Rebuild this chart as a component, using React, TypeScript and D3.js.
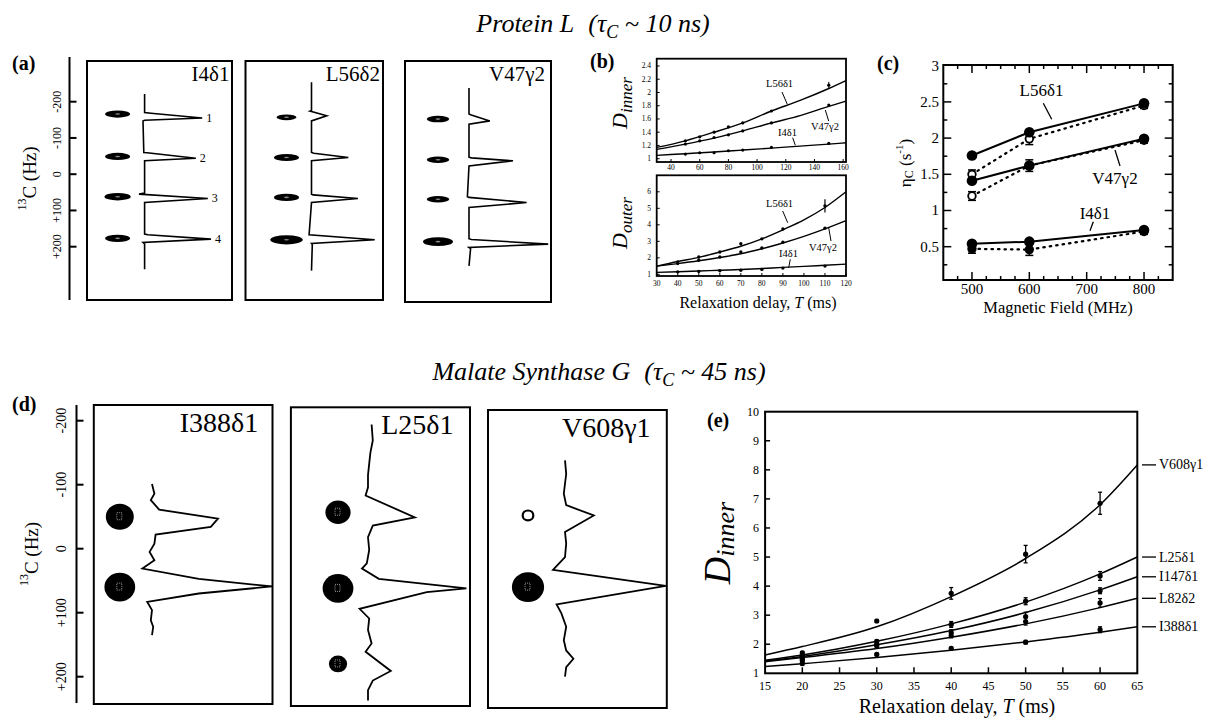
import React from 'react';
import * as d3 from 'd3';

const FONT = '"Liberation Serif", "Times New Roman", Times, serif';

// ---------- (a) Protein L multiplets ----------
const aLabels = ['I4δ1', 'L56δ2', 'V47γ2'];
const aPeakNumbers = ['1', '2', '3', '4'];
const aSpotHz = [[-166, -49, 62, 177], [-157, -46, 64, 181], [-152, -40, 69, 186]];
const aSpotVol = [[1, 1, 1.05, 1], [0.8, 1, 1, 1.3], [0.9, 0.9, 0.9, 1.2]];
// [13C offset Hz, intensity] along each 1D trace
const aTraceI4: [number, number][] = [[-221, 0], [-170, 0], [-168, 8], [-155, 72], [-149, 0], [-147, -2], [-60, -1], [-59, 3], [-44, 64], [-37, 0], [52, 0], [55, -7], [67, 79], [78, 0], [165, 0], [167, 4], [179, 83], [188, -2], [192, 0], [262, 0]];
const aTraceL56: [number, number][] = [[-254, 0], [-176, 0], [-174, -2], [-161, 19], [-147, 0], [-60, 0], [-58, 3], [-46, 46], [-37, 0], [55, 0], [57, 2], [67, 58], [78, 0], [167, -3], [181, 79], [191, 0], [194, 1], [266, 0]];
const aTraceV47: [number, number][] = [[-238, 0], [-166, 0], [-164, 2], [-147, 26], [-138, 0], [-47, 0], [-45, 3], [-37, 55], [-23, 0], [62, -2], [64, 0], [78, 72], [92, 0], [178, 0], [180, 3], [193, 99], [202, 0], [205, 2], [253, 0]];
const aTraces = [aTraceI4, aTraceL56, aTraceV47];

const hzTicks = [-200, -100, 0, 100, 200];
const hzTickLabels = ['-200', '-100', '0', '+100', '+200'];

// ---------- (b) D_inner / D_outer ----------
const bInnerT = [50, 60, 70, 80, 90, 110, 150];
const bInnerL56 = [1.27, 1.33, 1.4, 1.48, 1.54, 1.72, 2.11];
const bInnerV47 = [1.22, 1.27, 1.32, 1.36, 1.42, 1.54, 1.81];
const bInnerI4 = [1.07, 1.09, 1.09, 1.12, 1.13, 1.17, 1.23];
const bInnerFitT = [30, 50, 70, 90, 110, 130, 150, 162];
const bInnerFitL56 = [1.17, 1.27, 1.4, 1.54, 1.72, 1.88, 2.06, 2.18];
const bInnerFitV47 = [1.14, 1.22, 1.31, 1.42, 1.54, 1.65, 1.79, 1.87];
const bInnerFitI4 = [1.05, 1.075, 1.1, 1.13, 1.16, 1.19, 1.22, 1.24];

const bOuterT = [40, 50, 60, 70, 80, 90, 110];
const bOuterL56 = [1.75, 2.05, 2.35, 2.85, 3.15, 3.75, 5.15];
const bOuterV47 = [1.65, 1.85, 2.05, 2.35, 2.6, 2.95, 3.8];
const bOuterI4 = [1.15, 1.18, 1.22, 1.25, 1.3, 1.38, 1.5];
const bOuterFitT = [30, 40, 50, 60, 70, 80, 90, 100, 110, 120];
const bOuterFitL56 = [1.5, 1.78, 2.03, 2.35, 2.7, 3.15, 3.7, 4.3, 5.05, 6.0];
const bOuterFitV47 = [1.5, 1.65, 1.82, 2.02, 2.25, 2.55, 2.9, 3.3, 3.75, 4.25];
const bOuterFitI4 = [1.12, 1.16, 1.2, 1.25, 1.29, 1.35, 1.42, 1.48, 1.55, 1.62];

// ---------- (c) eta_C vs field ----------
const cField = [500, 600, 800];
const cL56Solid = [1.76, 2.08, 2.48];
const cL56Dotted = [1.5, 1.99, 2.45];
const cV47Solid = [1.41, 1.62, 1.99];
const cV47Dotted = [1.2, 1.62, 1.97];
const cI4Solid = [0.54, 0.57, 0.73];
const cI4Dotted = [0.47, 0.46, 0.71];
const cSolidErr = [0.03, 0.04, 0.04];
const cDottedErr = [0.06, 0.08, 0.04];

// ---------- (d) Malate Synthase G multiplets ----------
const dLabels = ['I388δ1', 'L25δ1', 'V608γ1'];
const dSpotHz = [[-50, 60], [-57, 62, 180], [-52, 60]];
const dSpotVol = [[1, 1.1], [0.9, 1.1, 0.65], [0.38, 1.15]];
const dTraceI388: [number, number][] = [[-101, 0], [-86, 2], [-76, -1], [-61, 6], [-47, 55], [-34, 49], [-22, 3], [-8, 2], [5, -2], [18, 2], [31, -8], [47, 39], [59, 100], [70, 39], [83, -4], [96, 0], [112, -1], [122, 1], [135, 0]];
const dTraceL25: [number, number][] = [[-194, 3], [-169, 4], [-150, 2], [-133, 1], [-115, 0], [-96, 0], [-83, -2], [-49, 39], [-36, 4], [-18, 0], [2, 1], [23, -1], [31, -5], [47, 9], [62, 82], [68, 49], [94, -7], [109, 1], [127, 0], [148, 3], [161, -2], [191, 19], [206, 4], [221, 0], [237, 0]];
const dTraceV608: [number, number][] = [[-138, 0], [-117, 1], [-86, -1], [-68, 1], [-52, 24], [-26, 0], [-8, 1], [13, 0], [33, -10], [58, 84], [87, -7], [101, -3], [122, 1], [143, -1], [159, 1], [172, 7], [185, 1], [200, 0]];
const dTraces = [dTraceI388, dTraceL25, dTraceV608];

// ---------- (e) D_inner, MSG ----------
const eLabels = ['V608γ1', 'L25δ1', 'I147δ1', 'L82δ2', 'I388δ1'];
const eT = [20, 30, 40, 50, 60];
const eV608 = [1.7, 2.8, 3.75, 5.1, 6.85];
const eL25 = [1.62, 2.1, 2.68, 3.48, 4.35];
const eI147 = [1.5, 2.0, 2.4, 2.95, 3.84];
const eL82 = [1.45, 1.95, 2.3, 2.78, 3.42];
const eI388 = [1.35, 1.65, 1.86, 2.07, 2.5];
const eV608Err = [0.05, 0.05, 0.2, 0.3, 0.38];
const eL25Err = [0.1, 0.05, 0.1, 0.12, 0.15];
const eI147Err = [0.1, 0.08, 0.1, 0.15, 0.1];
const eL82Err = [0.1, 0.05, 0.08, 0.12, 0.15];
const eI388Err = [0.08, 0.04, 0.04, 0.06, 0.1];
const eFitT = [15, 20, 30, 40, 50, 60, 65];
const eFitV608 = [1.63, 1.92, 2.6, 3.64, 4.95, 6.8, 8.17];
const eFitL25 = [1.45, 1.63, 2.1, 2.7, 3.45, 4.42, 5.0];
const eFitI147 = [1.42, 1.58, 1.98, 2.47, 3.09, 3.87, 4.32];
const eFitL82 = [1.4, 1.54, 1.85, 2.24, 2.7, 3.26, 3.58];
const eFitI388 = [1.23, 1.33, 1.54, 1.79, 2.08, 2.41, 2.6];

const zip = (xs: number[], ys: number[]) => xs.map((x, i) => [x, ys[i]] as [number, number]);

function PanelLetter({ x, y, t }: { x: number; y: number; t: string }) {
  return <text x={x} y={y} fontSize={20} fontWeight="bold">{t}</text>;
}

function HzAxis({ x, top, bottom, hz, labelX, titleX, fs }: any) {
  return (
    <g>
      <line x1={x} x2={x} y1={top} y2={bottom} stroke="#000" strokeWidth={2} />
      {hzTicks.map((t, i) => (
        <g key={t}>
          <line x1={x} x2={x + 7} y1={hz(t)} y2={hz(t)} stroke="#000" strokeWidth={2} />
          <text transform={`translate(${labelX},${hz(t)}) rotate(-90)`} textAnchor="middle" dominantBaseline="central" fontSize={fs}>{hzTickLabels[i]}</text>
        </g>
      ))}
      <text transform={`translate(${titleX},${(top + bottom) / 2}) rotate(-90)`} textAnchor="middle" dominantBaseline="central" fontSize={19}>
        <tspan fontSize={12} dy={-7}>13</tspan><tspan dy={7}>C (Hz)</tspan>
      </text>
    </g>
  );
}

function PanelA() {
  const hz = d3.scaleLinear().domain([-200, 200]).range([101.7, 246.7]);
  const amp = d3.scaleLinear().domain([0, 100]).range([0, 80]);
  const boxes = [
    { x0: 87, x1: 232, y0: 61, y1: 300, base: 144.6, spot: 117.6, lx: 229.5 },
    { x0: 245.5, x1: 383, y0: 61, y1: 300, base: 311.5, spot: 286.5, lx: 380 },
    { x0: 405, x1: 551, y0: 61, y1: 302, base: 469, spot: 438, lx: 545 },
  ];
  return (
    <g>
      <PanelLetter x={12} y={70} t="(a)" />
      <HzAxis x={69.5} top={57} bottom={300} hz={hz} labelX={57} titleX={29} fs={12} />
      {boxes.map((b, i) => {
        const line = d3.line<[number, number]>().x(d => b.base + amp(d[1])).y(d => hz(d[0]));
        const tips = aTraces[i].filter(d => d[1] > 40);
        return (
          <g key={i}>
            <rect x={b.x0} y={b.y0} width={b.x1 - b.x0} height={b.y1 - b.y0} fill="none" stroke="#000" strokeWidth={2} />
            <text x={b.lx} y={81} textAnchor="end" fontSize={21}>{aLabels[i]}</text>
            {aSpotHz[i].map((h, j) => (
              <g key={j}>
                <ellipse cx={b.spot} cy={hz(h)} rx={12.5 * aSpotVol[i][j]} ry={3.6 * aSpotVol[i][j]} fill="#000" />
                <ellipse cx={b.spot} cy={hz(h)} rx={2.5} ry={0.8} fill="#888" />
              </g>
            ))}
            <path d={line(aTraces[i]) || ''} fill="none" stroke="#000" strokeWidth={1.6} strokeLinejoin="miter" />
            {i === 0 && tips.map((d, j) => (
              <text key={j} x={b.base + amp(d[1]) + 4} y={hz(d[0])} dominantBaseline="central" fontSize={12}>{aPeakNumbers[j]}</text>
            ))}
          </g>
        );
      })}
    </g>
  );
}

function Pointer({ p }: { p: number[] }) {
  return <line x1={p[0]} y1={p[1]} x2={p[2]} y2={p[3]} stroke="#000" strokeWidth={1} />;
}

function PanelB() {
  const L = 656.7, R = 846;
  const xi = d3.scaleLinear().domain([30, 162]).range([L, R]);
  const yi = d3.scaleLinear().domain([0.95, 2.51]).range([162, 58.7]);
  const xo = d3.scaleLinear().domain([30, 120]).range([L, R]);
  const yo = d3.scaleLinear().domain([0.9, 7.0]).range([276, 175.3]);
  const li = d3.line<[number, number]>().x(d => xi(d[0])).y(d => yi(d[1])).curve(d3.curveMonotoneX);
  const lo = d3.line<[number, number]>().x(d => xo(d[0])).y(d => yo(d[1])).curve(d3.curveMonotoneX);
  const inner = [bInnerL56, bInnerV47, bInnerI4];
  const innerFit = [bInnerFitL56, bInnerFitV47, bInnerFitI4];
  const outer = [bOuterL56, bOuterV47, bOuterI4];
  const outerFit = [bOuterFitL56, bOuterFitV47, bOuterFitI4];
  const fs = 7.5;
  return (
    <g>
      <PanelLetter x={590} y={68} t="(b)" />
      {/* inner plot */}
      <rect x={L} y={58.7} width={R - L} height={162 - 58.7} fill="none" stroke="#000" strokeWidth={1.8} />
      {d3.range(1, 2.41, 0.2).map(v => (
        <g key={v}>
          <line x1={L} x2={L + 3} y1={yi(v)} y2={yi(v)} stroke="#000" />
          <text x={651} y={yi(v)} textAnchor="end" dominantBaseline="central" fontSize={fs}>{+v.toFixed(1)}</text>
        </g>
      ))}
      {d3.range(40, 161, 20).map(v => (
        <g key={v}>
          <line x1={xi(v)} x2={xi(v)} y1={162} y2={159} stroke="#000" />
          <text x={xi(v)} y={170} textAnchor="middle" fontSize={fs}>{v}</text>
        </g>
      ))}
      {innerFit.map((f, k) => <path key={k} d={li(zip(bInnerFitT, f)) || ''} fill="none" stroke="#000" strokeWidth={1.4} />)}
      {inner.map((s, k) => s.map((v, j) => <circle key={k + '-' + j} cx={xi(bInnerT[j])} cy={yi(v)} r={1.6} fill="#000" />))}
      <line x1={xi(150)} x2={xi(150)} y1={yi(2.16)} y2={yi(2.06)} stroke="#000" />
      <text x={766} y={87} fontSize={10.5}>L56δ1</text>
      <Pointer p={[782, 92, 787.3, 104.3]} />
      <text x={811} y={130} fontSize={10.5}>V47γ2</text>
      <Pointer p={[825.3, 110, 828.7, 121]} />
      <text x={778} y={136} fontSize={10.5}>I4δ1</text>
      <Pointer p={[792.7, 137.7, 795.3, 145.3]} />
      {/* outer plot */}
      <rect x={L} y={175.3} width={R - L} height={276 - 175.3} fill="none" stroke="#000" strokeWidth={1.8} />
      {d3.range(1, 7).map(v => (
        <g key={v}>
          <line x1={L} x2={L + 3} y1={yo(v)} y2={yo(v)} stroke="#000" />
          <text x={651} y={yo(v)} textAnchor="end" dominantBaseline="central" fontSize={fs}>{v}</text>
        </g>
      ))}
      {d3.range(30, 121, 10).map(v => (
        <g key={v}>
          <line x1={xo(v)} x2={xo(v)} y1={276} y2={273} stroke="#000" />
          <text x={xo(v)} y={285.5} textAnchor="middle" fontSize={fs}>{v}</text>
        </g>
      ))}
      {outerFit.map((f, k) => <path key={k} d={lo(zip(bOuterFitT, f)) || ''} fill="none" stroke="#000" strokeWidth={1.4} />)}
      {outer.map((s, k) => s.map((v, j) => <circle key={k + '-' + j} cx={xo(bOuterT[j])} cy={yo(v)} r={1.7} fill="#000" />))}
      <line x1={xo(110)} x2={xo(110)} y1={yo(5.55)} y2={yo(4.75)} stroke="#000" strokeWidth={1.2} />
      <text x={766} y={206.7} fontSize={10.5}>L56δ1</text>
      <Pointer p={[782.7, 211, 787.7, 222.7]} />
      <text x={809} y={251} fontSize={10.5}>V47γ2</text>
      <Pointer p={[828.7, 227.7, 831, 241]} />
      <text x={779} y={256.7} fontSize={10.5}>I4δ1</text>
      <Pointer p={[790.3, 259.3, 788.7, 267.7]} />
      <text transform="translate(627,103) rotate(-90)" textAnchor="middle" fontSize={22} fontStyle="italic">D<tspan fontSize={17} dy={5}>inner</tspan></text>
      <text transform="translate(627,223) rotate(-90)" textAnchor="middle" fontSize={22} fontStyle="italic">D<tspan fontSize={17} dy={5}>outer</tspan></text>
      <text x={758} y={308} textAnchor="middle" fontSize={16}>Relaxation delay, <tspan fontStyle="italic">T</tspan>  (ms)</text>
    </g>
  );
}

function PanelC() {
  const L = 943.3, R = 1172.7, T = 65, B = 280;
  const x = d3.scaleLinear().domain([450, 850]).range([L, R]);
  const y = d3.scaleLinear().domain([0.04, 3]).range([B, 65.7]);
  const ln = d3.line<[number, number]>().x(d => x(d[0])).y(d => y(d[1]));
  const solid = [cL56Solid, cV47Solid, cI4Solid];
  const dotted = [cL56Dotted, cV47Dotted, cI4Dotted];
  return (
    <g>
      <PanelLetter x={877} y={70} t="(c)" />
      <rect x={L} y={T} width={R - L} height={B - T} fill="none" stroke="#000" strokeWidth={2} />
      {d3.range(0.25, 2.9, 0.25).map(v => {
        const major = Math.abs(v * 2 - Math.round(v * 2)) < 1e-6;
        const len = major ? 8 : 4;
        return (
          <g key={v}>
            <line x1={L} x2={L + len} y1={y(v)} y2={y(v)} stroke="#000" strokeWidth={1.5} />
            <line x1={R} x2={R - len} y1={y(v)} y2={y(v)} stroke="#000" strokeWidth={1.5} />
          </g>
        );
      })}
      {[0.5, 1, 1.5, 2, 2.5, 3].map(v => (
        <text key={v} x={939} y={y(v)} textAnchor="end" dominantBaseline="central" fontSize={15}>{v}</text>
      ))}
      {d3.range(475, 826, 25).map(v => {
        const major = v % 100 === 0;
        const len = major ? 8 : 4;
        return (
          <g key={v}>
            <line x1={x(v)} x2={x(v)} y1={B} y2={B - len} stroke="#000" strokeWidth={1.5} />
            <line x1={x(v)} x2={x(v)} y1={T} y2={T + len} stroke="#000" strokeWidth={1.5} />
          </g>
        );
      })}
      {[500, 600, 700, 800].map(v => (
        <text key={v} x={x(v)} y={293.5} textAnchor="middle" fontSize={15}>{v}</text>
      ))}
      {dotted.map((s, k) => (
        <g key={'d' + k}>
          <path d={ln(zip(cField, s)) || ''} fill="none" stroke="#000" strokeWidth={2.2} strokeDasharray="1.5 5" strokeLinecap="round" />
          {s.map((v, j) => (
            <g key={j}>
              <line x1={x(cField[j])} x2={x(cField[j])} y1={y(v - cDottedErr[j])} y2={y(v + cDottedErr[j])} stroke="#000" strokeWidth={1.5} />
              <line x1={x(cField[j]) - 4} x2={x(cField[j]) + 4} y1={y(v - cDottedErr[j])} y2={y(v - cDottedErr[j])} stroke="#000" strokeWidth={1.5} />
              <line x1={x(cField[j]) - 4} x2={x(cField[j]) + 4} y1={y(v + cDottedErr[j])} y2={y(v + cDottedErr[j])} stroke="#000" strokeWidth={1.5} />
              <circle cx={x(cField[j])} cy={y(v)} r={3.8} fill={k === 2 ? '#000' : '#fff'} stroke="#000" strokeWidth={1.8} />
            </g>
          ))}
        </g>
      ))}
      {solid.map((s, k) => (
        <g key={'s' + k}>
          <path d={ln(zip(cField, s)) || ''} fill="none" stroke="#000" strokeWidth={2} />
          {s.map((v, j) => (
            <g key={j}>
              <line x1={x(cField[j])} x2={x(cField[j])} y1={y(v - cSolidErr[j])} y2={y(v + cSolidErr[j])} stroke="#000" strokeWidth={1.5} />
              <circle cx={x(cField[j])} cy={y(v)} r={5.3} fill="#000" />
            </g>
          ))}
        </g>
      ))}
      <text x={1041.5} y={96} textAnchor="middle" fontSize={17}>L56δ1</text>
      <line x1={1043.3} y1={103.3} x2={1051.7} y2={119.3} stroke="#000" strokeWidth={1.3} />
      <text x={1115} y={184} textAnchor="middle" fontSize={17}>V47γ2</text>
      <line x1={1115} y1={150} x2={1120} y2={166} stroke="#000" strokeWidth={1.3} />
      <text x={1095} y={219} textAnchor="middle" fontSize={17}>I4δ1</text>
      <line x1={1093.3} y1={221.7} x2={1090} y2={230.7} stroke="#000" strokeWidth={1.3} />
      <text transform="translate(905,163) rotate(-90)" textAnchor="middle" dominantBaseline="central" fontSize={17}>
        η<tspan fontSize={12} dy={4}>C</tspan><tspan dy={-4}> (s</tspan><tspan fontSize={11} dy={-6}>-1</tspan><tspan dy={6}>)</tspan>
      </text>
      <text x={1058} y={313} textAnchor="middle" fontSize={16.5}>Magnetic Field (MHz)</text>
    </g>
  );
}

function PanelD() {
  const hz = d3.scaleLinear().domain([-200, 200]).range([420.7, 676.7]);
  const amp = d3.scaleLinear().domain([0, 100]).range([0, 120]);
  const boxes = [
    { x0: 93.8, x1: 272.5, y0: 405, y1: 704, base: 152, spot: 119.8, lx: 258.3, ly: 431.7 },
    { x0: 290.9, x1: 470, y0: 407.3, y1: 706, base: 368, spot: 338, lx: 453.5, ly: 434 },
    { x0: 488, x1: 666.8, y0: 410, y1: 708, base: 565, spot: 528, lx: 650.5, ly: 436.7 },
  ];
  return (
    <g>
      <PanelLetter x={12} y={411} t="(d)" />
      <HzAxis x={76.5} top={405} bottom={703} hz={hz} labelX={61} titleX={30.6} fs={14} />
      {boxes.map((b, i) => {
        const line = d3.line<[number, number]>().x(d => b.base + amp(d[1])).y(d => hz(d[0]));
        return (
          <g key={i}>
            <rect x={b.x0} y={b.y0} width={b.x1 - b.x0} height={b.y1 - b.y0} fill="none" stroke="#000" strokeWidth={2} />
            <text x={b.lx} y={b.ly} textAnchor="end" fontSize={28}>{dLabels[i]}</text>
            {dSpotHz[i].map((h, j) => {
              const v = dSpotVol[i][j];
              const hollow = v < 0.5;
              return (
                <g key={j}>
                  <ellipse cx={b.spot} cy={hz(h)} rx={14 * v} ry={13 * v} fill={hollow ? '#fff' : '#000'} stroke="#000" strokeWidth={hollow ? 2.2 : 0} />
                  {!hollow && <rect x={b.spot - 3} y={hz(h) - 4} width={5} height={7} fill="none" stroke="#bbb" strokeWidth={0.8} strokeDasharray="1 1" />}
                </g>
              );
            })}
            <path d={line(dTraces[i]) || ''} fill="none" stroke="#000" strokeWidth={1.8} strokeLinejoin="miter" />
          </g>
        );
      })}
    </g>
  );
}

function PanelE() {
  const L = 765.1, R = 1137.3, T = 411.7, B = 673.3;
  const x = d3.scaleLinear().domain([15, 65]).range([L, R]);
  const y = d3.scaleLinear().domain([1, 10]).range([B, T]);
  const ln = d3.line<[number, number]>().x(d => x(d[0])).y(d => y(d[1])).curve(d3.curveMonotoneX);
  const fits = [eFitV608, eFitL25, eFitI147, eFitL82, eFitI388];
  const pts = [eV608, eL25, eI147, eL82, eI388];
  const errs = [eV608Err, eL25Err, eI147Err, eL82Err, eI388Err];
  return (
    <g>
      <PanelLetter x={707} y={427} t="(e)" />
      <rect x={L} y={T} width={R - L} height={B - T} fill="none" stroke="#000" strokeWidth={2} />
      {d3.range(2, 10).map(v => (
        <line key={v} x1={L} x2={L + 5} y1={y(v)} y2={y(v)} stroke="#000" strokeWidth={1.5} />
      ))}
      {d3.range(1, 11).map(v => (
        <text key={v} x={759} y={y(v)} textAnchor="end" dominantBaseline="central" fontSize={12}>{v}</text>
      ))}
      {d3.range(20, 61, 5).map(v => (
        <line key={v} x1={x(v)} x2={x(v)} y1={B} y2={B - 6} stroke="#000" strokeWidth={1.5} />
      ))}
      {d3.range(15, 66, 5).map(v => (
        <text key={v} x={x(v)} y={690} textAnchor="middle" fontSize={12}>{v}</text>
      ))}
      {fits.map((f, k) => <path key={k} d={ln(zip(eFitT, f)) || ''} fill="none" stroke="#000" strokeWidth={1.5} />)}
      {pts.map((s, k) => s.map((v, j) => {
        const cx = x(eT[j]);
        const e = errs[k][j];
        return (
          <g key={k + '-' + j}>
            <line x1={cx} x2={cx} y1={y(v - e)} y2={y(v + e)} stroke="#000" strokeWidth={1.3} />
            <line x1={cx - 2} x2={cx + 2} y1={y(v - e)} y2={y(v - e)} stroke="#000" strokeWidth={1.3} />
            <line x1={cx - 2} x2={cx + 2} y1={y(v + e)} y2={y(v + e)} stroke="#000" strokeWidth={1.3} />
            <circle cx={cx} cy={y(v)} r={2.6} fill="#000" />
          </g>
        );
      }))}
      {fits.map((f, k) => {
        const yy = y(f[f.length - 1]);
        return (
          <g key={k}>
            <line x1={1142} x2={1156} y1={yy} y2={yy} stroke="#000" strokeWidth={1.3} />
            <text x={1159} y={yy} dominantBaseline="central" fontSize={14}>{eLabels[k]}</text>
          </g>
        );
      })}
      <text transform="translate(716.5,543) rotate(-90)" textAnchor="middle" fontSize={38} fontStyle="italic" dominantBaseline="central">D<tspan fontSize={26} dy={8}>inner</tspan></text>
      <text x={957} y={713} textAnchor="middle" fontSize={20}>Relaxation delay, <tspan fontStyle="italic">T</tspan>  (ms)</text>
    </g>
  );
}

export default function App() {
  return (
    <svg width={1206} height={720} style={{ position: 'absolute', left: 0, top: 0, display: 'block' }} fontFamily={FONT}>
      <rect width={1206} height={720} fill="#fff" />
      <text x={593} y={31.7} textAnchor="middle" fontSize={26} fontStyle="italic">
        Protein L<tspan dx={14}>(τ</tspan><tspan fontSize={18} dy={6}>C</tspan><tspan dy={-6}> ~ 10 ns)</tspan>
      </text>
      <text x={599} y={380} textAnchor="middle" fontSize={26} fontStyle="italic">
        Malate Synthase G<tspan dx={14}>(τ</tspan><tspan fontSize={18} dy={6}>C</tspan><tspan dy={-6}> ~ 45 ns)</tspan>
      </text>
      <PanelA />
      <PanelB />
      <PanelC />
      <PanelD />
      <PanelE />
    </svg>
  );
}
